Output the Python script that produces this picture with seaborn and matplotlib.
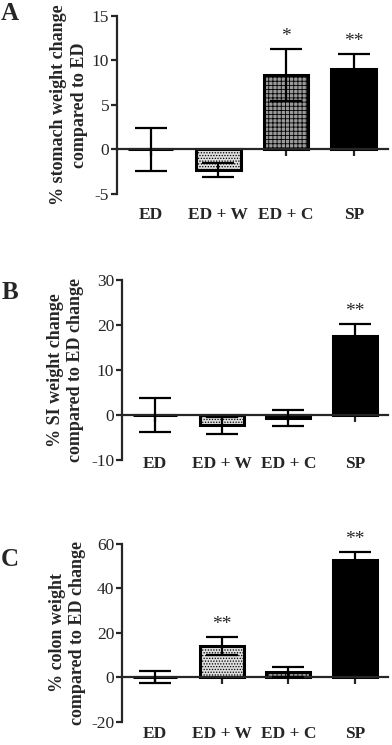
import numpy as np
import matplotlib
matplotlib.use("Agg")
import matplotlib.pyplot as plt
import seaborn as sns

categories = ["ED", "ED + W", "ED + C", "SP"]

stomach_mean = [0.0, -2.3, 8.4, 9.0]
stomach_err = [2.4, 0.8, 2.9, 1.7]
stomach_stars = ["", "", "*", "**"]

si_mean = [0.0, -2.3, -0.7, 17.6]
si_err = [3.7, 1.9, 1.8, 2.6]
si_stars = ["", "", "", "**"]

colon_mean = [0.0, 14.0, 2.5, 52.6]
colon_err = [2.7, 4.1, 2.3, 3.6]
colon_stars = ["", "**", "", "**"]

bar_colors = ["white", "#dedede", "#9a9a9a", "black"]
bar_hatches = ["", "......", "++++", ""]

sns.set_style("ticks")
plt.rcParams["font.family"] = ["Liberation Serif", "DejaVu Serif"]
plt.rcParams["axes.unicode_minus"] = False
plt.rcParams["hatch.linewidth"] = 0.6
plt.rcParams["hatch.color"] = "#555555"

fig = plt.figure(figsize=(3.92, 7.45), dpi=100)

panels = [
    dict(letter="A", mean=stomach_mean, err=stomach_err, stars=stomach_stars,
         ylabel="% stomach weight change\ncompared to ED", ylim=(-5, 15), step=5,
         rect=[0.298, 0.7396, 0.691, 0.239], label_x=-0.108, pad=9.5, letter_y=0.997),
    dict(letter="B", mean=si_mean, err=si_err, stars=si_stars,
         ylabel="% SI weight change\ncompared to ED change", ylim=(-10, 30), step=10,
         rect=[0.311, 0.3826, 0.679, 0.2416], label_x=-0.143, pad=-2.5, letter_y=0.623),
    dict(letter="C", mean=colon_mean, err=colon_err, stars=colon_stars,
         ylabel="% colon weight\ncompared to ED change", ylim=(-20, 60), step=20,
         rect=[0.311, 0.0309, 0.679, 0.239], label_x=-0.135, pad=3.0, letter_y=0.264),
]

for p in panels:
    ax = fig.add_axes(p["rect"])
    sns.barplot(x=categories, y=p["mean"], hue=categories, palette=bar_colors,
                legend=False, errorbar=None, width=0.66, edgecolor="black",
                linewidth=2.2, ax=ax)
    for patch, h in zip(ax.patches, bar_hatches):
        patch.set_hatch(h)
    xs = np.arange(len(categories))
    ax.errorbar(xs, p["mean"], yerr=p["err"], fmt="none", ecolor="black",
                elinewidth=1.6, capsize=11.5, capthick=1.6, zorder=5)
    for x, m, e, s in zip(xs, p["mean"], p["err"], p["stars"]):
        if s:
            ax.annotate(s, (x, m + e), xytext=(0, 3), textcoords="offset points",
                        ha="center", va="bottom", fontsize=14)
    lo, hi = p["ylim"]
    ax.set_ylim(lo, hi)
    ax.set_yticks(np.arange(lo, hi + 1, p["step"]))
    ax.set_xlim(-0.5, 3.5)
    ax.spines["top"].set_visible(False)
    ax.spines["right"].set_visible(False)
    ax.spines["bottom"].set_position(("data", 0))
    for sp in ["left", "bottom"]:
        ax.spines[sp].set_linewidth(1.6)
    ax.tick_params(axis="y", length=4, width=1.6, labelsize=12.5, pad=1.5, direction="out")
    ax.tick_params(axis="x", length=5, width=1.6, labelbottom=False, direction="out")
    ax.set_xlabel("")
    ax.set_ylabel(p["ylabel"], fontsize=13, fontweight="bold", linespacing=1.25)
    ax.yaxis.set_label_coords(p["label_x"], 0.5)

    sec = ax.secondary_xaxis("bottom")
    sec.set_xticks(xs, categories)
    sec.spines["bottom"].set_visible(False)
    sec.tick_params(length=0, pad=p["pad"], labelsize=12.5)
    for t in sec.get_xticklabels():
        t.set_fontweight("bold")

    fig.text(0.003, p["letter_y"], p["letter"], fontsize=18, fontweight="bold",
             ha="left", va="top")

fig.savefig("out.png", dpi=100)
